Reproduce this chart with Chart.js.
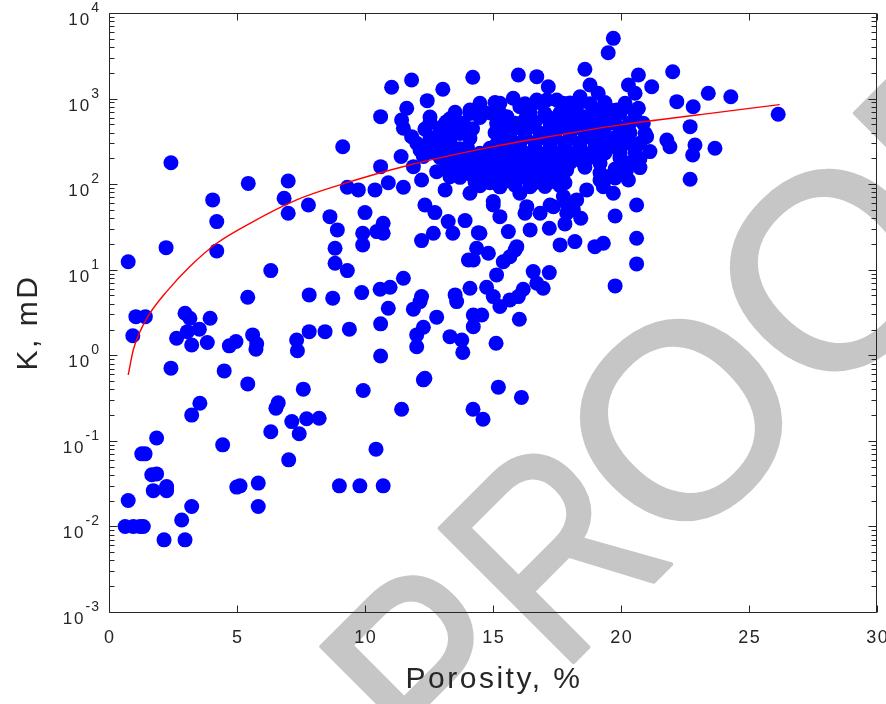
<!DOCTYPE html>
<html>
<head>
<meta charset="utf-8">
<script src="https://cdn.jsdelivr.net/npm/chart.js@4.4.1/dist/chart.umd.min.js"></script>
<style>
  html, body { margin: 0; padding: 0; background: #ffffff; overflow: hidden; }
  canvas { display: block; }
</style>
</head>
<body>
<canvas id="chart" width="886" height="704"></canvas>
<script>
// Core samples: porosity (%) and permeability K (mD)
const lowPermSamples = [
  [3.23,0.20],[3.55,0.275],[1.86,0.108],[1.28,0.0705],[1.41,0.0705],[1.67,0.0401],[1.86,0.0411],
  [1.73,0.0262],[2.25,0.0292],[2.25,0.0262],[0.75,0.0201],[0.63,0.01],[0.95,0.01],[1.21,0.01],
  [1.34,0.01],[2.15,0.00697],[2.97,0.00697],[2.84,0.0119],[3.23,0.0171],[4.44,0.0898],[4.99,0.0288],
  [5.12,0.0298],[5.83,0.0321],[5.83,0.0171],[6.32,0.128],[6.52,0.241],[6.61,0.278],[7.14,0.168],
  [7.43,0.121],[7.72,0.181],[8.21,0.184],[7.02,0.060],[9.0,0.0298],[9.8,0.0298],[10.71,0.0298],
  [10.43,0.080],[7.59,0.402],[9.93,0.387],[11.43,0.234],[12.28,0.516],[14.22,0.234],[14.61,0.179],
  [15.21,0.424],[16.11,0.322]
];
const midPermSamples = [
  [0.75,12.4],[2.23,18.1],[2.42,178],[4.21,36.5],[4.05,65.4],[4.21,16.6],[1.05,2.83],[1.42,2.83],
  [0.93,1.69],[2.97,3.10],[3.16,2.71],[3.95,2.71],[3.53,2.02],[3.06,1.89],[2.64,1.58],[3.23,1.32],
  [3.84,1.41],[2.42,0.707],[4.50,0.657],[4.70,1.29],[4.96,1.45],[5.42,4.77],[5.61,1.73],[5.77,1.36],
  [5.74,1.18],[5.42,0.463],[6.32,9.76],[7.00,45.7],[7.79,57.1],[7.82,5.08],[8.74,4.65],[7.33,1.51],
  [7.36,1.13],[7.82,1.89],[8.44,1.89],[8.63,41.7],[8.92,29.2],[8.83,17.8],[8.83,11.9],[9.31,9.76],
  [9.39,2.02],[5.44,102],[7.00,109],[6.84,68.4],[9.13,274],[9.31,92.0],[9.74,85.6],
  [10.0,46.5],[9.91,26.7],[9.91,19.5],[10.46,27.9],[10.71,26.7],[10.71,34.9],[12.21,21.9],
  [12.34,57.1],[12.73,46.5],[13.25,36.5],[13.43,26.7],[13.91,37.5],[14.43,27.1],[14.36,17.8],
  [14.04,13.0],[14.23,13.0],[14.82,15.6],[15.27,41.7],[15.60,27.9],[15.86,17.0],[15.40,12.4],
  [16.45,29.2],[17.20,30.5],[17.81,34.3],[18.20,21.3],[18.43,40.0],[18.98,18.6],[19.77,42.5],
  [19.77,6.47],[9.87,5.40],[10.59,5.92],[10.98,6.25],[11.50,7.96],[10.91,3.55],[10.61,2.33],
  [12.21,4.85],[12.15,4.24],[11.89,3.46],[12.80,2.79],[12.28,2.13],[12.02,1.73],[12.02,1.26],
  [10.61,0.98],[13.52,5.08],[13.58,4.24],[14.10,6.08],[13.32,1.65],[13.78,1.51],[13.82,1.08],
  [14.23,2.96],[14.56,2.96],[14.23,2.16],[15.12,1.38],[14.75,6.25],[15.14,8.70],[15.01,4.85],
  [15.27,3.71],[15.66,4.44],[15.99,4.85],[16.18,5.92],[16.57,9.50],[16.71,6.95],[16.96,6.08],
  [17.20,9.25],[16.03,2.64],[12.34,0.540],[19.31,20.4],[17.62,19.5],[15.93,18.6],[15.66,14.2],
  [14.49,26.7],[12.67,26.7],[20.61,23.3],[20.61,11.7],[16.25,45.7],[16.84,45.7],[17.23,57.1],
  [15.01,57.1],[20.61,57.1]
];
const highPermSamples = [
  [10.61,615],[11.04,1355],[11.82,1650],[11.63,771],[11.43,562],[11.50,450],[12.43,945],[13.04,1285],
  [11.41,210],[10.61,160],[11.82,359],[12.02,300],[12.15,251],[11.89,160],[10.39,85.6],[10.91,104],
  [11.50,92.0],[12.21,112],[14.21,1774],[14.10,736],[14.36,673],[12.93,450],[13.19,537],[12.80,359],
  [12.93,300],[13.45,393],[12.54,251],[12.28,210],[12.80,140],[13.32,122],[13.13,85.6],[14.10,78.3],
  [15.01,62.5],[15.27,881],[15.79,1008],[16.05,804],[14.95,673],[15.14,514],[15.54,615],[15.99,1888],
  [16.71,1803],[17.16,1377],[17.10,963],[16.71,963],[17.49,963],[17.75,881],[18.59,2198],[18.79,1442],
  [19.11,1153],[18.40,1052],[18.27,804],[18.53,615],[19.50,3436],[19.70,5058],[19.57,736],[19.83,736],
  [16.05,78.3],[16.45,93.5],[16.32,54.6],[17.36,54.6],[17.88,59.8],[18.14,50.0],[18.66,85.6],
  [19.31,93.5],[13.84,514],[17.88,736],[19.70,562],[17.88,45.7],[18.27,65.4],[19.18,112],[19.70,78.3],
  [20.29,1442],[20.68,1888],[21.20,1377],[20.55,1153],[20.68,771],[22.02,2061],[23.41,1153],
  [24.29,1052],[22.18,920],[22.82,804],[26.14,656],[22.70,470],[21.79,328],[21.91,274],[21.13,240],
  [22.89,287],[22.80,219],[23.67,263],[22.70,114],[20.09,771],[19.18,470],[20.22,470],[20.87,514],
  [21.00,359],[20.35,300],[19.57,274],[18.92,230],[18.40,192],[17.88,147],[20.22,147],[20.29,112],
  [19.50,122],[17.75,71.5],[19.96,393],[19.44,328],[19.31,804]
];
// Densely packed samples in the 12-21 % porosity, 100-1000 mD core
const clusterSamples = [
  [14.49,880],[15.08,900],[16.25,870],[16.84,895],[18.01,885],[18.79,870],[19.37,900],[20.16,880],
  [12.54,610],[13.32,580],[14.49,600],[16.25,570],[17.03,620],[17.42,590],[18.01,560],[18.79,605],[19.18,575],
  [13.52,690],[14.10,670],[14.69,685],[15.27,675],[16.45,690],[17.03,670],[17.62,680],[18.20,672],
  [18.98,688],[19.96,676],[20.55,684],
  [12.34,440],[13.52,470],[14.2,445],[15.47,460],[15.86,450],[16.45,470],[17.23,440],[17.62,465],[18.20,455],
  [18.79,445],[19.37,460],
  [12.54,525],[13.13,510],[15.27,520],[15.86,515],[16.64,528],[17.23,512],[17.81,522],[18.40,516],
  [19.18,524],[19.77,514],[20.35,520],
  [12.54,340],[13.32,355],[14.10,345],[15.27,350],[15.66,340],[16.25,355],[16.84,345],[17.42,350],[18.01,340],
  [18.59,355],[18.98,345],[19.77,350],[20.16,340],
  [12.93,400],[13.71,390],[15.08,398],[15.66,392],[16.25,400],[16.84,394],[17.42,398],[18.01,390],
  [18.59,400],[19.18,394],[20.35,398],[20.94,392],
  [13.13,270],[13.71,260],[14.0,268],[14.88,262],[15.47,270],[16.05,258],[16.64,266],[17.23,262],[17.81,270],
  [18.40,260],[18.98,266],[19.96,262],[20.55,268],
  [12.54,300],[13.32,306],[15.16,298],[15.47,308],[16.05,300],[16.64,306],[17.23,298],[17.81,304],
  [18.40,300],[18.98,306],[19.57,298],[20.16,304],[20.74,300],
  [12.93,205],[13.52,198],[14.10,206],[14.69,200],[15.27,204],[15.86,198],[16.45,206],[17.03,200],[17.62,204],
  [18.20,198],[18.79,206],[19.18,200],[19.96,204],[20.74,198],
  [12.73,232],[13.32,228],[13.91,234],[14.49,230],[15.08,226],[15.66,234],[16.25,230],[16.84,228],
  [17.42,234],[18.01,230],[18.59,226],[19.37,232],[19.96,228],[20.55,234],
  [13.13,152],[13.71,158],[14.30,150],[14.88,156],[15.47,154],[16.05,158],[16.64,150],[17.23,156],[17.81,152],
  [18.59,158],[19.77,150],[20.74,156],
  [13.32,178],[13.91,174],[14.49,180],[15.08,176],[15.66,178],[16.25,174],[16.84,180],[17.42,176],
  [18.01,178],[19.18,174],[20.35,178],
  [13.71,120],[14.49,115],[15.08,122],[15.66,116],[16.25,120],[16.84,114],[17.42,121],[19.77,118],
  [13.52,136],[14.10,132],[14.69,138],[15.27,134],[15.86,136],[16.45,132],[17.03,138],[17.62,134],
  [19.18,136],[19.96,132],
  [14.49,96],[15.27,93],[15.86,97],[17.03,94],[17.62,96],
  [14.30,106],[14.88,104],[15.47,108],[16.64,105],[17.23,107],[17.81,104]
];

// Porosity-permeability trend line
const fitPorosity = [0.75, 0.95, 1.21, 1.6, 2.25, 3.16, 4.21, 5.51, 7.33, 9.02, 11.63, 15.01, 17.6, 19.96, 21.5, 23.1, 26.2];
const fitPermeability = [0.59, 1.16, 1.89, 3.1, 5.55, 10.9, 20.4, 34.9, 65.4, 98, 164, 274, 376, 492, 565, 650, 850];

// Axis ticks
const xTickValues = [0, 5, 10, 15, 20, 25, 30];
const yTickExponents = [4, 3, 2, 1, 0, -1, -2, -3];

const TEXT_COLOR = '#262626';
const FONT = '"Liberation Sans", Arial, Helvetica, sans-serif';

const allSamples = [].concat(lowPermSamples, midPermSamples, highPermSamples, clusterSamples);

// Large diagonal "PROOF" stamp behind the plot
const proofStamp = {
  id: 'proofStamp',
  beforeDatasetsDraw(chart) {
    const ctx = chart.ctx;
    const letters = ['P', 'R', 'O', 'O', 'F'];
    const advance = [0, 168, 328, 540, 752];
    const squeeze = [0.88, 0.85, 1, 1, 1];
    const ox = 440.9, oy = 794.6;
    const a = Math.PI / 4;
    ctx.save();
    ctx.fillStyle = '#c6c6c6';
    ctx.strokeStyle = '#c6c6c6';
    ctx.lineWidth = 4;
    ctx.lineJoin = 'round';
    ctx.font = '275px ' + FONT;
    ctx.textAlign = 'left';
    ctx.textBaseline = 'alphabetic';
    letters.forEach((ch, i) => {
      ctx.save();
      ctx.translate(ox + advance[i] * Math.cos(a), oy - advance[i] * Math.sin(a));
      ctx.rotate(-a);
      ctx.scale(squeeze[i], 1);
      ctx.fillText(ch, 0, 0);
      ctx.strokeText(ch, 0, 0);
      ctx.restore();
    });
    ctx.restore();
  }
};

// Boxed axes with inward ticks, log minor ticks, labels and titles
const boxedAxes = {
  id: 'boxedAxes',
  afterDraw(chart) {
    const ctx = chart.ctx;
    const { left, right, top, bottom } = chart.chartArea;
    const xs = chart.scales.x, ys = chart.scales.y;
    const L = Math.round(left) + 0.5, R = Math.round(right) - 0.5;
    const T = Math.round(top) + 0.5, B = Math.round(bottom) + 0.5;
    ctx.save();
    ctx.strokeStyle = TEXT_COLOR;
    ctx.lineWidth = 1;
    ctx.beginPath();
    ctx.rect(L, T, R - L, B - T);
    ctx.stroke();

    ctx.beginPath();
    xTickValues.forEach(v => {
      const px = Math.round(xs.getPixelForValue(v)) + 0.5;
      ctx.moveTo(px, B); ctx.lineTo(px, B - 7);
      ctx.moveTo(px, T); ctx.lineTo(px, T + 7);
    });
    yTickExponents.forEach(e => {
      const py = Math.round(ys.getPixelForValue(Math.pow(10, e))) + 0.5;
      ctx.moveTo(L, py); ctx.lineTo(L + 8, py);
      ctx.moveTo(R, py); ctx.lineTo(R - 8, py);
      if (e < 4) {
        for (let m = 2; m <= 9; m++) {
          const pm = Math.round(ys.getPixelForValue(m * Math.pow(10, e))) + 0.5;
          ctx.moveTo(L, pm); ctx.lineTo(L + 5, pm);
          ctx.moveTo(R, pm); ctx.lineTo(R - 5, pm);
        }
      }
    });
    ctx.stroke();

    ctx.fillStyle = TEXT_COLOR;
    ctx.textBaseline = 'alphabetic';

    // x tick labels
    ctx.font = '18px ' + FONT;
    ctx.letterSpacing = '1.5px';
    ctx.textAlign = 'center';
    xTickValues.forEach(v => {
      ctx.fillText(String(v), xs.getPixelForValue(v) + 0.75, bottom + 31);
    });

    // y tick labels as powers of ten
    ctx.textAlign = 'right';
    yTickExponents.forEach(e => {
      const py = ys.getPixelForValue(Math.pow(10, e));
      ctx.font = '14px ' + FONT;
      ctx.letterSpacing = '1px';
      const expText = String(e);
      const ew = ctx.measureText(expText).width;
      ctx.fillText(expText, left - 9, py - 1);
      ctx.font = '17px ' + FONT;
      ctx.letterSpacing = '2px';
      ctx.fillText('10', left - 9 - ew, py + 12);
    });

    // axis titles
    ctx.font = '30px ' + FONT;
    ctx.letterSpacing = '2.5px';
    ctx.textAlign = 'center';
    ctx.fillText('Porosity, %', (left + right) / 2 + 1, bottom + 76);
    ctx.save();
    ctx.translate(37, (top + bottom) / 2 + 10);
    ctx.rotate(-Math.PI / 2);
    ctx.fillText('K, mD', 0, 0);
    ctx.restore();
    ctx.restore();
  }
};

new Chart(document.getElementById('chart').getContext('2d'), {
  type: 'scatter',
  data: {
    datasets: [
      {
        label: 'Trend',
        data: fitPorosity.map((x, i) => ({ x, y: fitPermeability[i] })),
        showLine: true,
        pointRadius: 0,
        borderColor: '#ff0000',
        borderWidth: 1.4,
        cubicInterpolationMode: 'monotone',
        order: 0
      },
      {
        label: 'Samples',
        data: allSamples.map(([x, y]) => ({ x, y })),
        pointRadius: 7.5,
        pointHoverRadius: 7.5,
        backgroundColor: '#0000ff',
        borderWidth: 0,
        order: 1
      }
    ]
  },
  options: {
    responsive: false,
    animation: false,
    devicePixelRatio: 1,
    events: [],
    layout: { padding: { left: 109, right: 9, top: 13, bottom: 92 } },
    scales: {
      x: { type: 'linear', min: 0, max: 30, display: false },
      y: { type: 'logarithmic', min: 0.001, max: 10000, display: false }
    },
    plugins: { legend: { display: false }, tooltip: { enabled: false } }
  },
  plugins: [proofStamp, boxedAxes]
});
</script>
</body>
</html>
